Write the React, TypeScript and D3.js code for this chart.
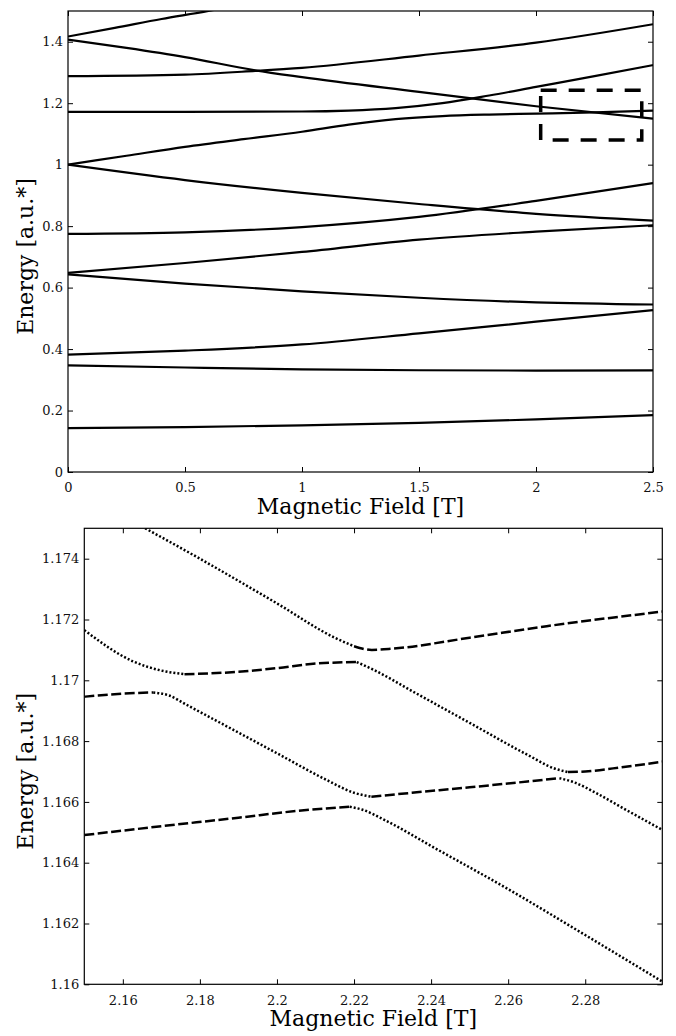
import * as d3 from "d3";
import { useEffect, useRef } from "react";

// top panel: energy levels vs field
const level1: [number, number][] = [[0, 0.143], [0.5, 0.146], [1, 0.152], [1.5, 0.16], [2, 0.171], [2.5, 0.185]];
const level2: [number, number][] = [[0, 0.347], [0.5, 0.34], [1, 0.334], [1.5, 0.331], [2, 0.33], [2.5, 0.331]];
const level3: [number, number][] = [[0, 0.382], [0.5, 0.395], [1, 0.415], [1.5, 0.451], [2, 0.489], [2.5, 0.527]];
const level4: [number, number][] = [[0, 0.643], [0.5, 0.613], [1, 0.588], [1.5, 0.567], [2, 0.552], [2.5, 0.545]];
const level5: [number, number][] = [[0, 0.648], [0.5, 0.68], [1, 0.716], [1.5, 0.756], [2, 0.782], [2.5, 0.803]];
const level6: [number, number][] = [[0, 0.775], [0.5, 0.78], [1, 0.797], [1.5, 0.83], [2, 0.882], [2.5, 0.94]];
const level7: [number, number][] = [[0, 1.0], [0.5, 0.95], [1, 0.908], [1.5, 0.872], [2, 0.84], [2.5, 0.818]];
const level8: [number, number][] = [[0, 1.0], [0.25, 1.029], [0.5, 1.058], [0.75, 1.083], [1, 1.107], [1.2, 1.13], [1.4, 1.148], [1.6, 1.158], [1.8, 1.163], [2, 1.166], [2.25, 1.17], [2.5, 1.176]];
const level9: [number, number][] = [[0, 1.172], [0.5, 1.172], [1, 1.173], [1.2, 1.176], [1.4, 1.184], [1.6, 1.2], [1.8, 1.225], [2, 1.253], [2.25, 1.288], [2.5, 1.324]];
const level10: [number, number][] = [[0, 1.407], [0.25, 1.38], [0.5, 1.35], [0.8, 1.307], [1, 1.285], [1.5, 1.237], [2, 1.19], [2.5, 1.15]];
const level11: [number, number][] = [[0, 1.288], [0.5, 1.293], [0.8, 1.305], [1, 1.315], [1.5, 1.355], [2, 1.397], [2.5, 1.457]];
const level12: [number, number][] = [[0, 1.417], [0.2, 1.445], [0.4, 1.474], [0.6, 1.5], [0.7, 1.515]];
const topLevels = [level1, level2, level3, level4, level5, level6, level7, level8, level9, level10, level11, level12];

const topXTicks = [0, 0.5, 1, 1.5, 2, 2.5];
const topXLabels = ["0", "0.5", "1", "1.5", "2", "2.5"];
const topYTicks = [0, 0.2, 0.4, 0.6, 0.8, 1, 1.2, 1.4];
const topYLabels = ["0", "0.2", "0.4", "0.6", "0.8", "1", "1.2", "1.4"];
// zoom window marked in the top panel
const zoomBoxX = [2.02, 2.452];
const zoomBoxY = [1.08, 1.242];

// bottom panel: anticrossings, dotted = falling state, dashed = rising states
const stateADot: [number, number][] = [[2.1658, 1.175], [2.18, 1.174], [2.2, 1.17253], [2.215, 1.1714], [2.22, 1.17112]];
const stateADash: [number, number][] = [[2.22, 1.17112], [2.2246, 1.171], [2.23, 1.17104], [2.25, 1.1714], [2.27, 1.17178], [2.3, 1.17226]];
const stateBDot1: [number, number][] = [[2.15, 1.17165], [2.1627, 1.17062], [2.17, 1.17032], [2.176, 1.1702]];
const stateBDash1: [number, number][] = [[2.176, 1.1702], [2.19, 1.17028], [2.2, 1.1704], [2.21, 1.17055], [2.2207, 1.1706]];
const stateBDot2: [number, number][] = [[2.2207, 1.1706], [2.225, 1.17035], [2.235, 1.16965], [2.25, 1.1686], [2.265, 1.16755], [2.272, 1.1671], [2.2755, 1.16698]];
const stateBDash2: [number, number][] = [[2.2755, 1.16698], [2.28, 1.167], [2.29, 1.16715], [2.3, 1.16732]];
const stateCDash1: [number, number][] = [[2.15, 1.16946], [2.16, 1.16956], [2.1679, 1.1696]];
const stateCDot1: [number, number][] = [[2.1679, 1.1696], [2.172, 1.1695], [2.1766, 1.16919], [2.185, 1.16862], [2.2, 1.1676], [2.2129, 1.16672], [2.22, 1.1663], [2.2245, 1.16617]];
const stateCDash2: [number, number][] = [[2.2245, 1.16617], [2.235, 1.1663], [2.25, 1.16648], [2.265, 1.16667], [2.2733, 1.16678]];
const stateCDot2: [number, number][] = [[2.2733, 1.16678], [2.277, 1.16665], [2.283, 1.16628], [2.29, 1.16578], [2.3, 1.16508]];
const stateDDash: [number, number][] = [[2.15, 1.16491], [2.17, 1.1652], [2.19, 1.16548], [2.205, 1.1657], [2.2189, 1.16584]];
const stateDDot: [number, number][] = [[2.2189, 1.16584], [2.222, 1.16575], [2.228, 1.1654], [2.24, 1.16455], [2.26, 1.16313], [2.28, 1.16162], [2.3, 1.16009]];
const dottedSegments = [stateADot, stateBDot1, stateBDot2, stateCDot1, stateCDot2, stateDDot];
const dashedSegments = [stateADash, stateBDash1, stateBDash2, stateCDash1, stateCDash2, stateDDash];

const botXTicks = [2.16, 2.18, 2.2, 2.22, 2.24, 2.26, 2.28];
const botXLabels = ["2.16", "2.18", "2.2", "2.22", "2.24", "2.26", "2.28"];
const botYTicks = [1.16, 1.162, 1.164, 1.166, 1.168, 1.17, 1.172, 1.174];
const botYLabels = ["1.16", "1.162", "1.164", "1.166", "1.168", "1.17", "1.172", "1.174"];

const FONT = "DejaVu Serif";

const drawFrame = (
  g: any,
  x: any,
  y: any,
  xTicks: number[],
  xLabels: string[],
  yTicks: number[],
  yLabels: string[]
) => {
  const [x0, x1] = x.range();
  const [y0, y1] = y.range();
  const styleAxis = (a: any) => {
    a.select(".domain").remove();
    a.selectAll(".tick line").attr("stroke", "#000").attr("stroke-width", 1);
    a.selectAll("text").attr("font-family", FONT).attr("font-size", 13).attr("fill", "#111");
  };
  g.append("g")
    .attr("transform", `translate(0,${y0})`)
    .call(d3.axisBottom(x).tickValues(xTicks).tickSizeInner(-5).tickSizeOuter(0).tickPadding(11)
      .tickFormat((_d: any, i: number) => xLabels[i]))
    .call(styleAxis);
  g.append("g")
    .attr("transform", `translate(0,${y1})`)
    .call(d3.axisTop(x).tickValues(xTicks).tickSizeInner(-5).tickSizeOuter(0).tickFormat(() => ""))
    .call(styleAxis);
  g.append("g")
    .attr("transform", `translate(${x0},0)`)
    .call(d3.axisLeft(y).tickValues(yTicks).tickSizeInner(-5).tickSizeOuter(0).tickPadding(5)
      .tickFormat((_d: any, i: number) => yLabels[i]))
    .call(styleAxis);
  g.append("g")
    .attr("transform", `translate(${x1},0)`)
    .call(d3.axisRight(y).tickValues(yTicks).tickSizeInner(-5).tickSizeOuter(0).tickFormat(() => ""))
    .call(styleAxis);
  g.append("rect")
    .attr("x", x0)
    .attr("y", y1)
    .attr("width", x1 - x0)
    .attr("height", y0 - y1)
    .attr("fill", "none")
    .attr("stroke", "#000")
    .attr("stroke-width", 1.2);

  g.append("text")
    .attr("x", (x0 + x1) / 2)
    .attr("y", y0 + 42)
    .attr("text-anchor", "middle")
    .attr("font-family", FONT)
    .attr("font-size", 22)
    .text("Magnetic Field [T]");
  g.append("text")
    .attr("transform", `translate(33,${(y0 + y1) / 2 + 15}) rotate(-90)`)
    .attr("text-anchor", "middle")
    .attr("font-family", FONT)
    .attr("font-size", 22)
    .text("Energy [a.u.*]");
};

const App = () => {
  const ref = useRef<SVGSVGElement>(null);

  useEffect(() => {
    const svg = d3.select(ref.current);
    svg.selectAll("*").remove();

    // ---- top panel ----
    const xTop = d3.scaleLinear().domain([0, 2.5]).range([68, 653]);
    const yTop = d3.scaleLinear().domain([0, 1.5]).range([472, 11]);
    const gTop = svg.append("g");
    gTop.append("clipPath").attr("id", "clipTop")
      .append("rect").attr("x", 68).attr("y", 11).attr("width", 585).attr("height", 461);

    const lineTop = d3.line<[number, number]>()
      .x((d) => xTop(d[0]))
      .y((d) => yTop(d[1]))
      .curve(d3.curveMonotoneX);
    gTop.append("g")
      .attr("clip-path", "url(#clipTop)")
      .selectAll("path")
      .data(topLevels)
      .join("path")
      .attr("fill", "none")
      .attr("stroke", "#000")
      .attr("stroke-width", 2.2)
      .attr("d", (d) => lineTop(d));

    gTop.append("rect")
      .attr("x", xTop(zoomBoxX[0]))
      .attr("y", yTop(zoomBoxY[1]))
      .attr("width", xTop(zoomBoxX[1]) - xTop(zoomBoxX[0]))
      .attr("height", yTop(zoomBoxY[0]) - yTop(zoomBoxY[1]))
      .attr("fill", "none")
      .attr("stroke", "#000")
      .attr("stroke-width", 3.5)
      .attr("stroke-dasharray", "16 12");

    drawFrame(gTop, xTop, yTop, topXTicks, topXLabels, topYTicks, topYLabels);

    // ---- bottom panel ----
    const xBot = d3.scaleLinear().domain([2.15, 2.3]).range([84.3, 662.3]);
    const yBot = d3.scaleLinear().domain([1.16, 1.175]).range([984.3, 528.3]);
    const gBot = svg.append("g");
    gBot.append("clipPath").attr("id", "clipBot")
      .append("rect").attr("x", 84.3).attr("y", 528.3).attr("width", 578).attr("height", 456);

    const lineBot = d3.line<[number, number]>()
      .x((d) => xBot(d[0]))
      .y((d) => yBot(d[1]))
      .curve(d3.curveMonotoneX);
    const curves = gBot.append("g").attr("clip-path", "url(#clipBot)");
    curves.selectAll("path.dot")
      .data(dottedSegments)
      .join("path")
      .attr("class", "dot")
      .attr("fill", "none")
      .attr("stroke", "#000")
      .attr("stroke-width", 2.5)
      .attr("stroke-dasharray", "2 2")
      .attr("d", (d) => lineBot(d));
    curves.selectAll("path.dash")
      .data(dashedSegments)
      .join("path")
      .attr("class", "dash")
      .attr("fill", "none")
      .attr("stroke", "#000")
      .attr("stroke-width", 2.5)
      .attr("stroke-dasharray", "10 3.5")
      .attr("d", (d) => lineBot(d));

    drawFrame(gBot, xBot, yBot, botXTicks, botXLabels, botYTicks, botYLabels);
  }, []);

  return (
    <svg
      ref={ref}
      width={676}
      height={1036}
      style={{ position: "absolute", left: 0, top: 0, background: "#fff" }}
    />
  );
};

export default App;
